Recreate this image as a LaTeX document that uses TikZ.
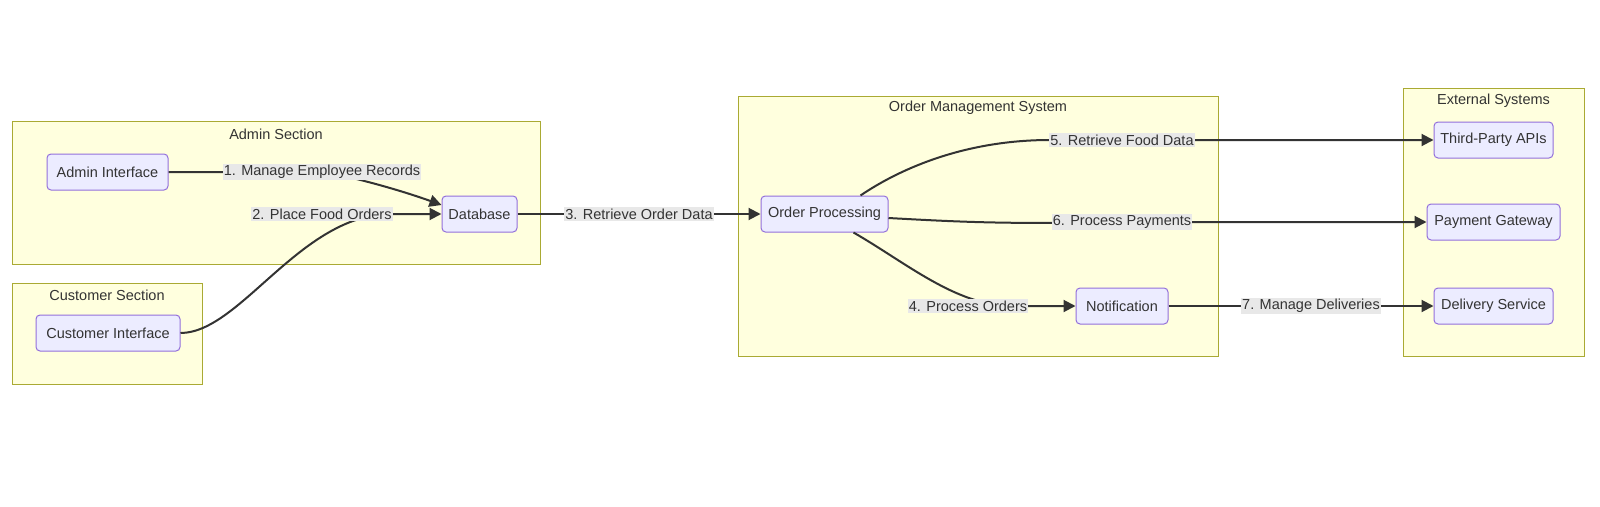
\documentclass[tikz,border=0pt]{standalone}
\usepackage{fontspec}
\setmainfont{Liberation Sans}
\usetikzlibrary{arrows.meta}
\definecolor{clfill}{HTML}{FFFFDE}
\definecolor{clline}{HTML}{AAAA33}
\definecolor{ndfill}{HTML}{ECECFF}
\definecolor{ndline}{HTML}{9370DB}
\definecolor{edgec}{HTML}{333333}
\definecolor{lblbg}{HTML}{E8E8E8}
\begin{document}
\begin{tikzpicture}[x=1pt,y=-1pt,
  font=\fontsize{14.5}{17}\selectfont,
  cluster/.style={draw=clline,fill=clfill,line width=1pt},
  ctitle/.style={text=edgec,inner sep=0pt},
  box/.style={draw=ndline,fill=ndfill,line width=1pt,rounded corners=4pt,minimum height=36pt,inner xsep=6pt,text=edgec},
  flow/.style={draw=edgec,line width=2pt,-{Triangle[length=12pt,width=12pt]}},
  lbl/.style={fill=lblbg,inner xsep=1pt,inner ysep=1.5pt,text=edgec}
]
\path[use as bounding box] (0,0) rectangle (1600,506);

% clusters
\draw[cluster] (12,121) rectangle (540,264);
\node[ctitle] (tadmin) at (276,134) {Admin Section};
\draw[cluster] (12,283) rectangle (202,384);
\node[ctitle] (tcust) at (107,295) {Customer Section};
\draw[cluster] (738,96) rectangle (1218,356);
\node[ctitle] (toms) at (978,108) {Order Management System};
\draw[cluster] (1403,88) rectangle (1584,356);
\node[ctitle] (text) at (1493.5,101) {External Systems};

% nodes
\node[box,minimum width=121pt] (AI) at (107.5,172) {Admin Interface};
\node[box,minimum width=75pt] (DB) at (479.5,214) {Database};
\node[box,minimum width=144pt] (CI) at (108,333) {Customer Interface};
\node[box,minimum width=127pt] (OP) at (824.5,214) {Order Processing};
\node[box,minimum width=92pt] (NT) at (1122,306) {Notification};
\node[box,minimum width=119pt] (TP) at (1493.5,140) {Third-Party APIs};
\node[box,minimum width=133pt] (PG) at (1493.5,222) {Payment Gateway};
\node[box,minimum width=119pt] (DS) at (1493.5,306) {Delivery Service};

% edges
\draw[flow] (AI.east) -- (322,172) .. controls (350,176) and (400,190) .. ([yshift=9pt]DB.west);
\draw[flow] (CI.east) .. controls (240,333) and (300,215) .. (390,214) -- (DB.west);
\draw[flow] (DB.east) -- (OP.west);
\draw[flow] ([xshift=29pt]OP.south) .. controls (905,262) and (955,305) .. (1010,306) -- (NT.west);
\draw[flow] ([xshift=36pt]OP.north) .. controls (895,172) and (960,140) .. (1050,140) -- (TP.west);
\draw[flow] ([yshift=-4pt]OP.east) .. controls (960,222) and (990,223) .. (1060,223) -- (1200,222) -- (PG.west);
\draw[flow] (NT.east) -- (DS.west);

% edge labels
\node[lbl] (L1) at (322,172) {1. Manage Employee Records};
\node[lbl] (L2) at (322,214) {2. Place Food Orders};
\node[lbl] (L3) at (639,214) {3. Retrieve Order Data};
\node[lbl] (L4) at (968,306) {4. Process Orders};
\node[lbl] (L5) at (1122,140) {5. Retrieve Food Data};
\node[lbl] (L6) at (1122,222) {6. Process Payments};
\node[lbl] (L7) at (1311,306) {7. Manage Deliveries};
\end{tikzpicture}
\end{document}
